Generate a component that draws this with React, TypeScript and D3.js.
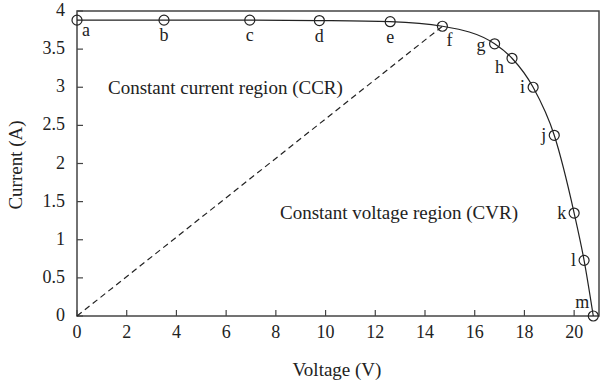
import React from "react";
import * as d3 from "d3";

const pointLabels = ["a", "b", "c", "d", "e", "f", "g", "h", "i", "j", "k", "l", "m"];
const voltage = [0, 3.5, 6.95, 9.75, 12.6, 14.7, 16.8, 17.5, 18.35, 19.2, 20.0, 20.4, 20.77];
const current = [3.88, 3.88, 3.88, 3.875, 3.86, 3.8, 3.57, 3.38, 3.0, 2.37, 1.35, 0.73, 0];
// label placement: dx, dy relative to point, anchor
const labelPos: [number, number, string][] = [
  [5, 16, "start"], [0, 21, "middle"], [0, 21, "middle"], [0, 21, "middle"], [0, 21, "middle"],
  [7, 20, "middle"], [-9, 7, "end"], [-8, 15, "end"], [-8, 6, "end"], [-8, 6, "end"],
  [-8, 6, "end"], [-8, 6, "end"], [-4, -8, "end"],
];
const xTicks = [0, 2, 4, 6, 8, 10, 12, 14, 16, 18, 20];
const yTicks = [0, 0.5, 1, 1.5, 2, 2.5, 3, 3.5, 4];
const ccrLabel = "Constant current region (CCR)";
const cvrLabel = "Constant voltage region (CVR)";

export default function App() {
  const W = 600, H = 383;
  const left = 77, right = 599, top = 11, bottom = 316;
  const x = d3.scaleLinear().domain([0, 21]).range([left, right]);
  const y = d3.scaleLinear().domain([0, 4]).range([bottom, top]);
  const pts = voltage.map((v, i) => [v, current[i]] as [number, number]);
  const line = d3.line<[number, number]>().x(d => x(d[0])).y(d => y(d[1])).curve(d3.curveMonotoneX);
  const font = "'Liberation Serif', 'Times New Roman', serif";
  const fIdx = 5;
  return (
    <svg width={W} height={H} style={{ position: "absolute", left: 0, top: 0, background: "#fff" }} fontFamily={font}>
      <rect x={0} y={0} width={W} height={H} fill="#fff" />
      <rect x={left} y={top} width={right - left} height={bottom - top} fill="none" stroke="#444" strokeWidth={1.5} />
      {xTicks.map(t => (
        <g key={"x" + t}>
          <line x1={x(t)} x2={x(t)} y1={bottom} y2={bottom - 6} stroke="#444" strokeWidth={1.2} />
          <text x={x(t)} y={bottom + 22} textAnchor="middle" fontSize={18} fill="#222">{t}</text>
        </g>
      ))}
      {yTicks.map(t => (
        <g key={"y" + t}>
          <line x1={left} x2={left + 6} y1={y(t)} y2={y(t)} stroke="#444" strokeWidth={1.2} />
          <text x={left - 12} y={y(t) + 5} textAnchor="end" fontSize={18} fill="#222">{t}</text>
        </g>
      ))}
      <path d={line(pts) || ""} fill="none" stroke="#222" strokeWidth={1.2} />
      <line x1={x(0)} y1={y(0)} x2={x(voltage[fIdx])} y2={y(current[fIdx])} stroke="#222" strokeWidth={1.2} strokeDasharray="6,4" />
      {pts.map((p, i) => (
        <g key={"p" + i}>
          <circle cx={x(p[0])} cy={y(p[1])} r={5} fill="none" stroke="#222" strokeWidth={1.2} />
          <text x={x(p[0]) + labelPos[i][0]} y={y(p[1]) + labelPos[i][1]} textAnchor={labelPos[i][2] as any} fontSize={18} fill="#222">{pointLabels[i]}</text>
        </g>
      ))}
      <text x={108} y={94} fontSize={19} fill="#222">{ccrLabel}</text>
      <text x={280} y={219} fontSize={19} fill="#222">{cvrLabel}</text>
      <text x={337} y={376} textAnchor="middle" fontSize={19} fill="#222">Voltage (V)</text>
      <text transform={`translate(22,165) rotate(-90)`} textAnchor="middle" fontSize={19} fill="#222">Current (A)</text>
    </svg>
  );
}
